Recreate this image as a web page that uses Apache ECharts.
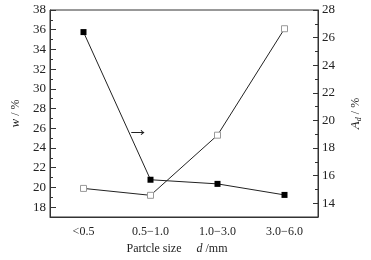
<!DOCTYPE html>
<html>
<head>
<meta charset="utf-8">
<script src="https://cdn.jsdelivr.net/npm/echarts@6/dist/echarts.min.js"></script>
<style>
  html, body { margin: 0; padding: 0; background: #fff; }
  #chart { width: 371px; height: 260px; }
</style>
</head>
<body>
<div id="chart"></div>
<script>
// particle size classes
const categories = ['<0.5', '0.5\u22121.0', '1.0\u22123.0', '3.0\u22126.0'];
// w (%), open squares, left axis
const wValues = [19.9, 19.2, 25.3, 36.1];
// A_d (%), filled squares, right axis
const adValues = [26.4, 15.7, 15.4, 14.6];
// tick labels
const wTicks = [18, 20, 22, 24, 26, 28, 30, 32, 34, 36, 38];
const wMinor = [19, 21, 23, 25, 27, 29, 31, 33, 35, 37];
const adTicks = [14, 16, 18, 20, 22, 24, 26, 28];
const adMinor = [15, 17, 19, 21, 23, 25, 27];

const font = 'Liberation Serif';
const ink = '#222';

const myChart = echarts.init(document.getElementById('chart'));

function yAx(pos, min, max, ticks, len, showLabel, extra) {
    return Object.assign({
        type: 'value',
        position: pos,
        min: min,
        max: max,
        axisLine: { show: showLabel, lineStyle: { color: '#333', width: 1 } },
        axisTick: { show: true, inside: true, length: len, customValues: ticks, lineStyle: { color: '#333' } },
        axisLabel: { show: showLabel, customValues: ticks, color: ink, fontFamily: font, fontSize: 13, margin: 4 },
        splitLine: { show: false }
    }, extra || {});
}

myChart.setOption({
    animation: false,
    grid: {
        left: 50, right: 48, top: 10, bottom: 43,
        show: true, borderColor: '#333', borderWidth: 1
    },
    xAxis: [{
        type: 'category',
        data: categories,
        boundaryGap: true,
        axisLine: { lineStyle: { color: '#333' } },
        axisTick: { inside: true, alignWithLabel: true, length: 5, lineStyle: { color: '#333' } },
        axisLabel: { color: ink, fontFamily: font, fontSize: 12, margin: 9 },
        name: 'Partcle size     {i|d} /mm',
        nameLocation: 'middle',
        nameGap: 25,
        nameTextStyle: {
            color: ink, fontFamily: font, fontSize: 12,
            padding: [0, 14, 0, 0],
            rich: { i: { fontStyle: 'italic', fontFamily: font, fontSize: 12, color: ink } }
        }
    }, {
        type: 'category',
        data: categories,
        boundaryGap: true,
        position: 'bottom',
        axisLine: { show: false },
        axisTick: { inside: true, length: 3, lineStyle: { color: '#333' } },
        axisLabel: { show: false }
    }],
    yAxis: [
        yAx('left', 17, 38, wTicks, 6, true, {
            name: '{i|w} / %',
            nameLocation: 'middle',
            nameRotate: 90,
            nameGap: 28,
            nameTextStyle: {
                color: ink, fontFamily: font, fontSize: 12,
                rich: { i: { fontStyle: 'italic', fontFamily: font, fontSize: 13, color: ink } }
            }
        }),
        yAx('left', 17, 38, wMinor, 3, false),
        yAx('right', 13, 28, adTicks, 5, true, {
            name: '{i|A}{s|d} / %',
            nameLocation: 'middle',
            nameRotate: 90,
            nameGap: 31,
            nameTextStyle: {
                color: ink, fontFamily: font, fontSize: 12,
                rich: {
                    i: { fontStyle: 'italic', fontFamily: font, fontSize: 13, color: ink },
                    s: { fontStyle: 'italic', fontFamily: font, fontSize: 8, color: ink, padding: [6, 0, 0, 0] }
                }
            }
        }),
        yAx('right', 13, 28, adMinor, 3, false)
    ],
    series: [{
        name: 'w',
        type: 'line',
        xAxisIndex: 0,
        yAxisIndex: 0,
        data: wValues,
        symbol: 'rect',
        symbolSize: 6,
        itemStyle: { color: '#fff', borderColor: '#999', borderWidth: 1 },
        lineStyle: { color: ink, width: 1 }
    }, {
        name: 'Ad',
        type: 'line',
        xAxisIndex: 0,
        yAxisIndex: 2,
        data: adValues,
        symbol: 'rect',
        symbolSize: 6,
        itemStyle: { color: '#000' },
        lineStyle: { color: ink, width: 1 },
        z: 3
    }],
    graphic: [{
        type: 'text',
        left: 127,
        top: 119,
        style: { text: '\u2192', font: '22px Liberation Serif', fill: ink }
    }]
});
</script>
</body>
</html>
